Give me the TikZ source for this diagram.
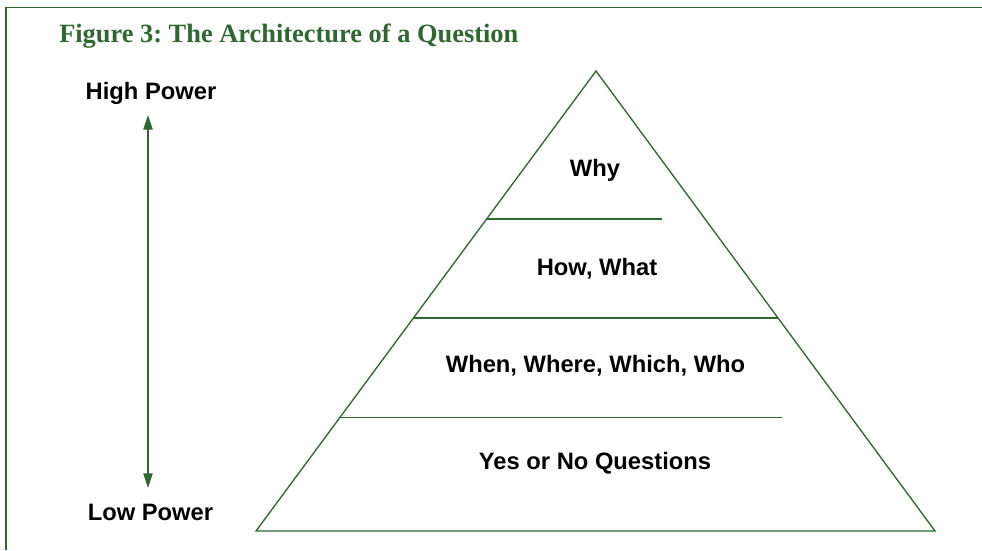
\documentclass[tikz,border=0pt]{standalone}
\usepackage{fontspec}
\setmainfont{Liberation Serif}
\newfontfamily\labelfont{Liberation Sans}
\usetikzlibrary{arrows.meta}
\definecolor{pyrgreen}{RGB}{46,104,48}
\frenchspacing

\begin{document}
\begin{tikzpicture}[x=0.75pt,y=-0.75pt,
  level/.style={draw=pyrgreen,line width=1pt},
  levellabel/.style={inner sep=0pt,anchor=base,font=\labelfont\bfseries\fontsize{17.8}{20}\selectfont}]
% Parameters
\def\apexX{596}; \def\apexY{71};
\def\leftX{256}; \def\rightX{935}; \def\baseY{531};
\def\arrowX{148};

\useasboundingbox (0,0) rectangle (982,550);

% Frame
\draw[pyrgreen,line width=1.3pt] (6,550) -- (6,7.5) -- (982,7.5);

% Title
\node[inner sep=0pt,anchor=base west,text=pyrgreen,font=\bfseries\fontsize{19.8}{22}\selectfont]
  (title) at (59,42) {Figure 3: The Architecture of a Question};

% Power scale
\node[levellabel] (high) at (151,99.5) {High Power};
\node[levellabel] (low) at (150.5,520.5) {Low Power};
\coordinate (hightip) at (\arrowX,115);
\coordinate (lowtip) at (\arrowX,488);
\draw[pyrgreen,line width=0.8pt,{Triangle[length=11pt,width=7pt]}-{Triangle[length=11pt,width=7pt]}] (hightip) -- (lowtip);

% Pyramid
\draw[level,line join=miter] (\apexX,\apexY) -- (\leftX,\baseY) -- (\rightX,\baseY) -- cycle;
\draw[level] (486.6,219) -- (662,219);
\draw[level] (413.4,318) -- (778,318);
\draw[level] (339.7,417.7) -- (782,417.7);

% Levels
\node[levellabel] (why) at (595,176.5) {Why};
\node[levellabel] (howwhat) at (597,275.5) {How, What};
\node[levellabel] (wh) at (595.5,372.5) {When, Where, Which, Who};
\node[levellabel] (yesno) at (595,469.5) {Yes or No Questions};
\end{tikzpicture}
\end{document}
